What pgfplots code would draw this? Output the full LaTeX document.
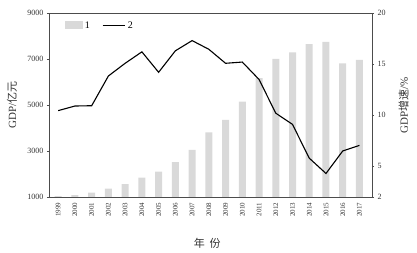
\documentclass[border=0pt]{standalone}
\usepackage{pgfplots}
\pgfplotsset{compat=1.18}
\usepackage{fontspec}
\setmainfont{Liberation Serif}
\newfontfamily\cjk{Noto Sans CJK SC}
\definecolor{barg}{HTML}{D9D9D9}
\begin{document}
\begin{tikzpicture}
\begin{axis}[
  scale only axis, width=323pt, height=184pt,
  xmin=-0.55, xmax=18.75,
  ymin=1000, ymax=9000,
  ytick={1000,3000,5000,7000,9000},
  xtick={0,...,18},
  xticklabels={1999,2000,2001,2002,2003,2004,2005,2006,2007,2008,2009,2010,2011,2012,2013,2014,2015,2016,2017},
  x tick label style={rotate=90, anchor=east, font=\fontsize{7}{8}\selectfont, color=black!80},
  y tick label style={font=\fontsize{8}{9}\selectfont, color=black!80},
  /pgf/number format/assume math mode=true,
  /pgf/number format/1000 sep={},
  axis y line*=left,
  axis x line*=bottom,
  axis line style={black!70},
  tick align=outside, major tick length=2pt,
  ytick style={black!70},
  xtick style={draw=none},
  ylabel={GDP/{\cjk 亿元}},
  ylabel style={at={(axis description cs:-0.115,0.5)}, anchor=center, font=\fontsize{11}{12}\selectfont, color=black!80},
  xlabel={{\cjk 年\ \ 份}},
  xlabel style={at={(axis description cs:0.49,-0.25)}, anchor=center, font=\fontsize{11}{12}\selectfont, color=black!80},
  legend style={draw=none, fill=none, inner sep=0pt, at={(0.05,0.965)}, anchor=north west, font=\fontsize{10}{11}\selectfont, legend columns=2, /tikz/every even column/.append style={column sep=10pt}},
  legend image code/.code={\fill[barg] (0cm,-0.13cm) rectangle (0.62cm,0.16cm);},
]
\addplot[ybar, bar width=7pt, fill=barg, draw=none, bar shift=0pt] coordinates {
(0,1040) (1,1080) (2,1190) (3,1360) (4,1565) (5,1840) (6,2100) (7,2520) (8,3045) (9,3810)
(10,4350) (11,5145) (12,6170) (13,7000) (14,7290) (15,7650) (16,7740) (17,6810) (18,6960)};
\addlegendentry{1}
\addlegendimage{legend image code/.code={\draw[black, line width=1.1pt] (0cm,0.02cm) -- (0.8cm,0.02cm);}}
\addlegendentry{2}
\end{axis}
\begin{axis}[
  scale only axis, width=323pt, height=184pt,
  xmin=-0.55, xmax=18.75,
  ymin=2, ymax=20,
  ytick={2,5,10,15,20},
  axis y line*=right,
  axis x line*=top,
  axis line style={black!70},
  xtick=\empty,
  y tick label style={font=\fontsize{8}{9}\selectfont, color=black!80},
  ytick style={black!70},
  /pgf/number format/assume math mode=true,
  tick align=outside, major tick length=2pt,
  ylabel={GDP{\cjk 增速}/\%},
  ylabel style={at={(axis description cs:1.098,0.5)}, anchor=center, font=\fontsize{11}{12}\selectfont, color=black!80},
]
\addplot[black, line width=1.1pt, mark=none] coordinates {
(0,10.45) (1,10.9) (2,10.93) (3,13.84) (4,15.08) (5,16.2) (6,14.2) (7,16.3) (8,17.3) (9,16.45)
(10,15.08) (11,15.2) (12,13.5) (13,10.2) (14,9.1) (15,5.8) (16,4.3) (17,6.5) (18,7.05)};
\end{axis}
\pgfresetboundingbox
\path[use as bounding box] (-49pt,-56pt) rectangle (368pt,197pt);
\end{tikzpicture}
\end{document}
